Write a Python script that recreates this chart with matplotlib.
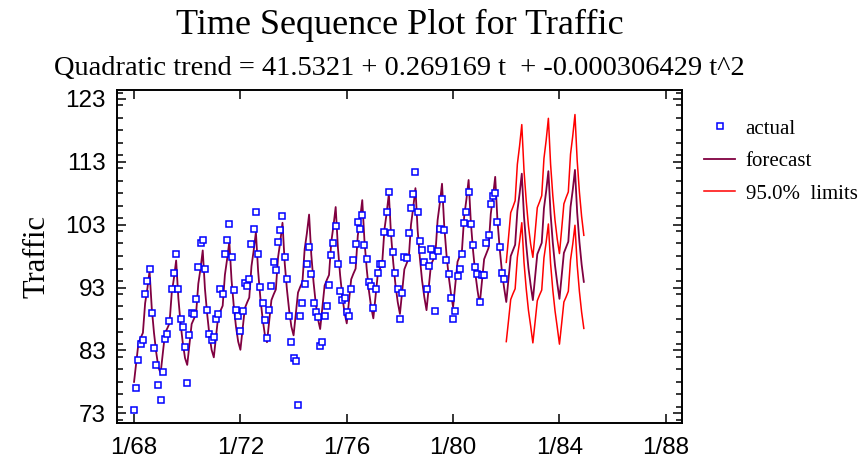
import numpy as np
import matplotlib.pyplot as plt
from matplotlib.ticker import MultipleLocator

# Monthly traffic, Jan 1968 - Dec 1981
traffic = [
    73.6, 77.1, 81.4, 84.1, 84.6, 91.9, 94.1, 96.0, 89.0, 83.4, 80.7, 77.5,    # 1968
    75.1, 79.5, 84.8, 85.6, 87.6, 92.8, 95.3, 98.4, 92.8, 88.0, 86.8, 83.6,    # 1969
    77.8, 85.5, 89.0, 88.8, 91.2, 96.3, 100.0, 100.6, 96.0, 89.5, 85.6, 84.6,  # 1970
    85.1, 88.0, 88.8, 92.7, 91.9, 98.4, 100.6, 103.1, 97.8, 92.6, 89.5, 88.4,  # 1971
    86.1, 89.3, 93.7, 93.3, 94.4, 99.9, 102.3, 105.0, 98.4, 93.1, 90.5, 87.8,  # 1972
    85.0, 89.5, 93.2, 97.0, 95.8, 100.2, 102.1, 104.3, 97.8, 94.4, 88.4, 84.4, # 1973
    81.8, 81.3, 74.4, 88.4, 90.6, 93.6, 96.8, 99.5, 95.1, 90.6, 89.1, 88.3,    # 1974
    83.7, 84.4, 88.4, 90.0, 93.4, 98.1, 100.1, 102.8, 96.8, 92.4, 91.0, 91.3,  # 1975
    89.1, 88.5, 92.7, 97.4, 99.9, 103.4, 102.3, 104.5, 99.7, 97.5, 93.8, 93.3, # 1976
    89.7, 92.8, 95.3, 96.8, 96.7, 101.8, 105.0, 108.2, 101.6, 98.7, 95.3, 92.8,  # 1977
    88.0, 92.2, 97.9, 97.7, 101.6, 105.7, 107.9, 111.3, 105.0, 100.4, 99.0, 97.0,  # 1978
    92.8, 96.4, 99.2, 98.0, 89.2, 98.8, 102.3, 107.0, 102.1, 97.4, 95.1, 91.4,   # 1979
    88.0, 89.2, 94.8, 95.9, 98.3, 103.3, 105.0, 108.2, 103.1, 99.7, 96.3, 95.1,  # 1980
    90.7, 95.0, 95.0, 100.1, 101.4, 106.2, 107.5, 108.0, 103.4, 99.5, 95.3, 94.3,  # 1981
]

# Fitted values Jan 1968 - Dec 1981, then forecasts to Dec 1984
forecast = [
    78.0, 81.1, 84.2, 85.0, 85.8, 90.5, 92.8, 95.6, 89.7, 85.8, 82.7, 80.3,
    79.4, 82.6, 85.8, 86.5, 87.3, 92.1, 94.5, 97.3, 91.3, 87.3, 84.2, 81.8,
    80.7, 83.9, 87.2, 88.0, 88.8, 93.6, 96.0, 98.9, 92.8, 88.8, 85.5, 83.1,
    81.9, 85.2, 88.5, 89.3, 90.1, 95.0, 97.5, 100.3, 94.2, 90.1, 86.8, 84.4,
    83.1, 86.4, 89.7, 90.6, 91.4, 96.4, 98.9, 101.8, 95.6, 91.4, 88.1, 85.6,
    84.3, 87.7, 91.0, 91.9, 92.7, 97.8, 100.3, 103.3, 96.9, 92.7, 89.4, 86.8,
    85.4, 88.8, 92.2, 93.1, 93.9, 99.1, 101.6, 104.6, 98.2, 93.9, 90.5, 88.0,
    86.4, 89.9, 93.3, 94.2, 95.0, 100.2, 102.8, 105.8, 99.4, 95.0, 91.6, 89.0,
    87.3, 90.8, 94.3, 95.2, 96.0, 101.3, 103.9, 106.9, 100.4, 96.0, 92.5, 89.9,
    88.1, 91.6, 95.1, 96.0, 96.9, 102.2, 104.8, 107.9, 101.3, 96.9, 93.4, 90.7,
    88.8, 92.4, 95.9, 96.8, 97.7, 103.0, 105.7, 108.8, 102.1, 97.7, 94.1, 91.5,
    89.4, 93.0, 96.6, 97.4, 98.3, 103.7, 106.4, 109.5, 102.8, 98.3, 94.8, 92.1,
    89.9, 93.5, 97.1, 98.0, 98.9, 104.3, 107.0, 110.1, 103.4, 98.9, 95.3, 92.6,
    90.3, 93.9, 97.5, 98.4, 99.3, 104.7, 107.5, 110.6, 103.8, 99.3, 95.7, 93.0,
    90.7, 94.3, 98.0, 98.9, 99.8, 105.2, 107.9, 111.1, 104.3, 99.8, 96.1, 93.4,
    91.0, 94.6, 98.3, 99.2, 100.1, 105.6, 108.3, 111.5, 104.7, 100.1, 96.5, 93.7,
    91.2, 94.8, 98.5, 99.4, 100.3, 105.8, 108.5, 111.7, 104.9, 100.3, 96.7, 93.9,
]

# 95% limits, Jan 1982 - Dec 1984
upper = [
    97.0, 100.9, 104.9, 105.8, 106.8, 112.6, 115.5, 118.9, 111.6, 106.8, 102.8, 99.9,
    97.8, 101.7, 105.7, 106.6, 107.6, 113.5, 116.4, 119.9, 112.6, 107.6, 103.7, 100.7,
    98.4, 102.3, 106.3, 107.3, 108.2, 114.2, 117.1, 120.5, 113.2, 108.2, 104.3, 101.3,
]
lower = [
    84.4, 87.7, 91.1, 92.0, 92.8, 97.8, 100.3, 103.3, 97.0, 92.8, 89.4, 86.9,
    84.2, 87.5, 90.9, 91.8, 92.6, 97.7, 100.2, 103.1, 96.8, 92.6, 89.3, 86.7,
    84.0, 87.3, 90.7, 91.5, 92.4, 97.4, 99.9, 102.9, 96.6, 92.4, 89.1, 86.5,
]

start_year = 1968
year_ticks = [1968, 1972, 1976, 1980, 1984, 1988]
year_labels = ["1/68", "1/72", "1/76", "1/80", "1/84", "1/88"]

serif = "Liberation Serif"
sans = "Liberation Sans"

t_actual = start_year + np.arange(len(traffic)) / 12
t_fc = start_year + np.arange(len(forecast)) / 12
t_lim = start_year + (len(traffic) + np.arange(len(upper))) / 12

fig = plt.figure(figsize=(8.58, 4.59), dpi=100)
ax = fig.add_axes([0.1364, 0.0784, 0.6585, 0.7255])

ax.plot(t_fc, forecast, color="#800040", lw=1.3, label="forecast", zorder=2)
ax.plot(t_lim, upper, color="#ff0000", lw=1.1, label="95.0%  limits", zorder=2)
ax.plot(t_lim, lower, color="#ff0000", lw=1.1, zorder=2)
ax.plot(t_actual, traffic, ls="none", marker="s", ms=5, mfc="white",
        mec="#0000ff", mew=1.1, label="actual", zorder=3)

ax.set_xlim(1967.36, 1988.61)
ax.set_ylim(71.46, 124.4)
ax.set_xticks(year_ticks)
ax.set_xticklabels(year_labels)
ax.yaxis.set_minor_locator(MultipleLocator(2))
ax.set_yticks(np.arange(73, 124, 10))

ax.tick_params(which="both", direction="in", top=True, right=True, width=1.1)
ax.tick_params(which="major", length=6.5)
ax.tick_params(which="minor", length=4.3)
ax.tick_params(axis="y", pad=8)
ax.tick_params(axis="x", pad=10)
for lab in ax.get_xticklabels() + ax.get_yticklabels():
    lab.set_fontfamily(sans)
    lab.set_fontsize(17.5)
for sp in ax.spines.values():
    sp.set_linewidth(1.4)

ax.set_ylabel("Traffic", family=serif, fontsize=22, labelpad=10)

fig.text(0.4656, 0.945, "Time Sequence Plot for Traffic", family=serif,
         fontsize=26, ha="center", va="center")
fig.text(0.4656, 0.850, "Quadratic trend = 41.5321 + 0.269169 t  + -0.000306429 t^2",
         family=serif, fontsize=20.5, ha="center", va="center")

h, l = ax.get_legend_handles_labels()
order = [2, 0, 1]
ax.legend([h[i] for i in order], [l[i] for i in order], loc="upper left",
          bbox_to_anchor=(0.8205, 0.7407), bbox_transform=fig.transFigure,
          frameon=False, prop={"family": serif, "size": 15},
          handlelength=1.49, handletextpad=0.51, labelspacing=0.62,
          borderpad=0, borderaxespad=0)

fig.savefig("out.png", dpi=100)
